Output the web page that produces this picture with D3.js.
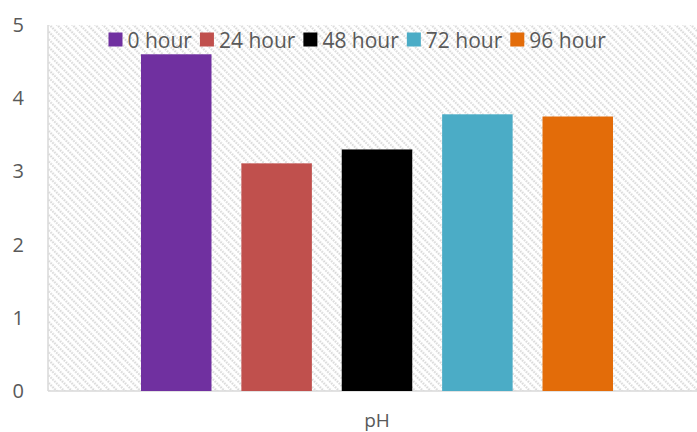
<!DOCTYPE html>
<meta charset="utf-8">
<head>
  <title>pH by hour</title>
</head>
<style>
  html, body {
    margin: 0;
    padding: 0;
    background: #fff;
    overflow: hidden;
  }
  text {
    font-family: "Open Sans", "Noto Sans", Arial, sans-serif;
    fill: #595959;
  }
</style>
<body>
<svg id="chart" width="697" height="432"></svg>
<script src="https://d3js.org/d3.v7.min.js"></script>
<script>
var categories = ['pH'];
var series = ['0 hour', '24 hour', '48 hour', '72 hour', '96 hour'];
var values = [4.6, 3.11, 3.3, 3.78, 3.75];
var colors = ['#7030a0', '#c0504d', '#000000', '#4bacc6', '#e36c09'];
var yTicks = [0, 1, 2, 3, 4, 5];

var svg = d3.select('#chart');
var plotLeft = 48, plotTop = 25, plotRight = 706, plotBottom = 391;

// hatched plot background
var pat = svg.append('defs').append('pattern')
  .attr('id', 'hatch')
  .attr('patternUnits', 'userSpaceOnUse')
  .attr('width', 5.4).attr('height', 5.4)
  .attr('patternTransform', 'rotate(-45)');
pat.append('line')
  .attr('x1', 1.2).attr('y1', 0).attr('x2', 1.2).attr('y2', 5.4)
  .attr('stroke', '#d9d9d9').attr('stroke-width', 2)
  .attr('stroke-dasharray', '1.8 0.9');

var y = d3.scaleLinear().domain([0, 5]).range([plotBottom, plotTop]);
var x0 = d3.scaleBand().domain(categories).range([plotLeft, plotRight])
  .paddingInner(0).paddingOuter(0.197);
var x1 = d3.scaleBand().domain(series).range([0, x0.bandwidth()])
  .paddingInner(0.2976).paddingOuter(0);

svg.append('rect')
  .attr('x', plotLeft).attr('y', plotTop)
  .attr('width', plotRight - plotLeft).attr('height', plotBottom - plotTop)
  .attr('fill', 'url(#hatch)');

// axis lines
svg.append('line').attr('x1', plotLeft).attr('x2', plotLeft).attr('y1', plotTop).attr('y2', plotBottom)
  .attr('stroke', '#d9d9d9').attr('stroke-width', 1.5);
svg.append('line').attr('x1', plotLeft).attr('x2', 697).attr('y1', plotBottom).attr('y2', plotBottom)
  .attr('stroke', '#d9d9d9').attr('stroke-width', 1.5);

// y tick labels
svg.selectAll('text.ytick').data(yTicks).enter().append('text')
  .attr('class', 'ytick')
  .attr('x', 24)
  .attr('y', function(d) { return y(d); })
  .attr('dy', '0.35em')
  .attr('text-anchor', 'end')
  .style('font-size', '20px')
  .text(function(d) { return d; });

// bars
var g = svg.append('g').attr('transform', 'translate(' + x0('pH') + ',0)');
g.selectAll('rect').data(values).enter().append('rect')
  .attr('x', function(d, i) { return x1(series[i]); })
  .attr('width', x1.bandwidth())
  .attr('y', function(d) { return y(d); })
  .attr('height', function(d) { return plotBottom - y(d); })
  .attr('fill', function(d, i) { return colors[i]; });

// category label
svg.selectAll('text.xcat').data(categories).enter().append('text')
  .attr('class', 'xcat')
  .attr('x', function(d) { return x0(d) + x0.bandwidth() / 2; })
  .attr('y', 427)
  .attr('text-anchor', 'middle')
  .style('font-size', '19px')
  .text(function(d) { return d; });

// legend
var lx = 108.5;
series.forEach(function(s, i) {
  svg.append('rect')
    .attr('x', lx).attr('y', 32.5)
    .attr('width', 14).attr('height', 14)
    .attr('fill', colors[i]);
  var t = svg.append('text')
    .attr('x', lx + 19).attr('y', 47.5)
    .style('font-size', '21px')
    .text(s);
  lx += 19 + t.node().getComputedTextLength() + 8;
});
</script>
</body>
